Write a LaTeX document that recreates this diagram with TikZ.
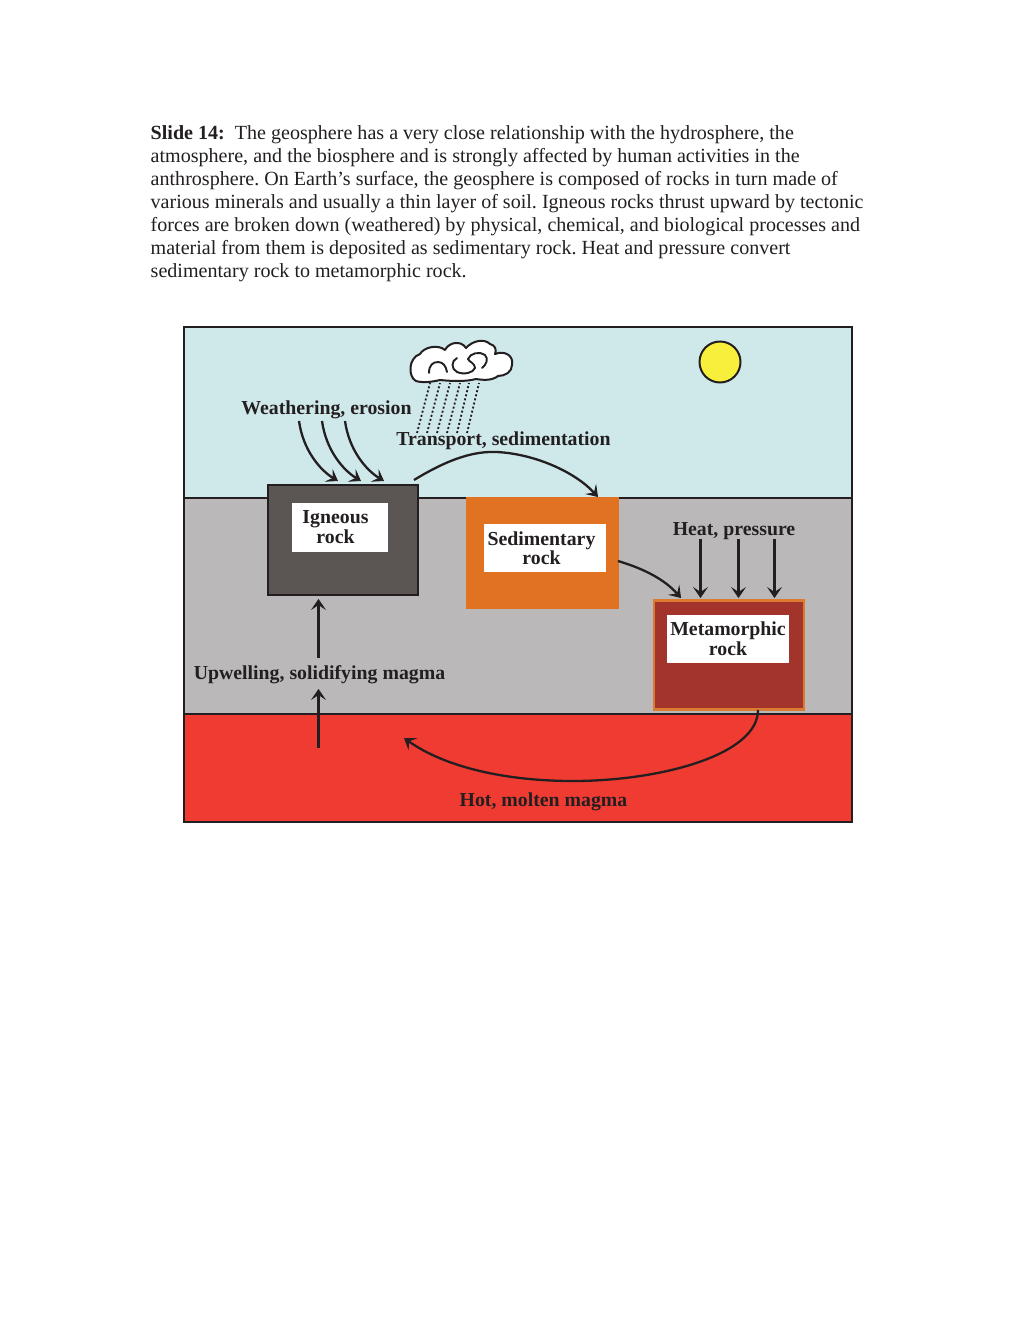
\documentclass[tikz,border=0pt]{standalone}
\usepackage{fontspec}
\setmainfont{Liberation Serif}
\usetikzlibrary{arrows.meta}
\definecolor{sky}{HTML}{CFE8EA}
\definecolor{crust}{HTML}{BBB8BA}
\definecolor{magma}{HTML}{F03B33}
\definecolor{igneous}{HTML}{5B5654}
\definecolor{sedim}{HTML}{E17222}
\definecolor{meta}{HTML}{A2342B}
\definecolor{metaedge}{HTML}{DB7A30}
\definecolor{ink}{HTML}{231F20}
\definecolor{sun}{HTML}{F7EF3C}
\tikzset{
  layer/.style={draw=ink,line width=2pt},
  lab/.style={font=\fontsize{19.8}{20}\selectfont\bfseries,text=ink,inner sep=0pt,anchor=center},
  tag/.style={fill=white,inner sep=0pt,anchor=center},
  tagtext/.style={font=\fontsize{19.8}{20}\selectfont\bfseries,text=ink,align=center,inner sep=0pt,anchor=center},
  flow/.style={draw=ink,-{Stealth[length=11pt,width=15pt,inset=5pt,line width=0.8pt]},line width=2.3pt},
  rain/.style={draw=ink,line width=1.8pt,dash pattern=on 2pt off 2.2pt},
}
\begin{document}
\frenchspacing
\begin{tikzpicture}[x=1pt,y=-1pt]
\useasboundingbox (0,0) rectangle (1024,1325);
\fill[white] (0,0) rectangle (1024,1325);
\node[anchor=north west,inner sep=0pt,align=left,font=\fontsize{20.07}{23}\selectfont,text=ink] (body) at (150.5,125.5) {%
\textbf{Slide 14:}\ \ The geosphere has a very close relationship with the hydrosphere, the\\
atmosphere, and the biosphere and is strongly affected by human activities in the\\
anthrosphere. On Earth’s surface, the geosphere is composed of rocks in turn made of\\
various minerals and usually a thin layer of soil. Igneous rocks thrust upward by tectonic\\
forces are broken down (weathered) by physical, chemical, and biological processes and\\
material from them is deposited as sedimentary rock. Heat and pressure convert\\
sedimentary rock to metamorphic rock.};
% layers
\fill[sky] (184,327) rectangle (852,498);
\fill[crust] (184,498) rectangle (852,714);
\fill[magma] (184,714) rectangle (852,822);
\draw[layer] (184,498) -- (852,498);
\draw[layer] (184,714) -- (852,714);
\draw[layer] (184,327) rectangle (852,822);
% sun
\node[circle,draw=ink,fill=sun,line width=2pt,minimum size=41pt,inner sep=0pt] (sunnode) at (720,362) {};
% rain
\foreach \a/\b in {417/430,427/440,437/450,447/460,457/469,467/479}
  \draw[rain] (\a,433) -- (\b,383);
% cloud
\draw[ink,fill=white,line width=2pt,line join=round]
  (416,381) .. controls (408,377) and (408,358) .. (420,354)
  .. controls (424,347) and (438,344) .. (445,350)
  .. controls (449,342) and (461,340) .. (466,348)
  .. controls (472,341) and (484,338) .. (490,344)
  .. controls (495,345) and (497,350) .. (495,354)
  .. controls (505,350) and (514,356) .. (512,365)
  .. controls (512,372) and (505,376) .. (498,376)
  .. controls (492,381) and (482,380) .. (476,379)
  .. controls (465,382) and (450,381) .. (440,380)
  .. controls (432,382) and (422,383) .. (416,381) -- cycle;
\draw[ink,line width=1.9pt,line cap=round]
  (429,373) .. controls (429,365) and (433,362) .. (438,362)
  .. controls (443,362) and (446,366) .. (447,372);
\draw[ink,line width=1.9pt,line cap=round]
  (457,358) .. controls (451,361) and (451,369) .. (457,372)
  .. controls (464,375) and (473,373) .. (475,368)
  .. controls (475,363) and (469,362) .. (468,359)
  .. controls (470,353) and (480,351) .. (485,355)
  .. controls (489,359) and (486,365) .. (482,368);
% rocks
\node[draw=ink,fill=igneous,line width=2pt,minimum width=150pt,minimum height=110pt,inner sep=0pt] (ign) at (342.5,540) {};
\node[fill=sedim,minimum width=153pt,minimum height=112pt,inner sep=0pt] (sed) at (542.5,553) {};
\node[draw=metaedge,fill=meta,line width=2.2pt,minimum width=150pt,minimum height=109pt,inner sep=0pt] (met) at (729,655) {};
\node[tag,minimum width=96pt,minimum height=49pt] (ignbox) at (339.5,527) {};
\node[tag,minimum width=122pt,minimum height=48pt] (sedbox) at (545,548) {};
\node[tag,minimum width=122pt,minimum height=48pt] (metbox) at (728,639) {};
\node[tagtext] (ignt) at (335.5,527) {Igneous\\[-0.5pt]rock};
\node[tagtext] (sedt) at (541.5,548) {Sedimentary\\[-0.5pt]rock};
\node[tagtext] (mett) at (728,638.5) {Metamorphic\\[-0.5pt]rock};
% labels
\node[lab] (we) at (326.5,410) {Weathering, erosion};
\node[lab] (tr) at (503.5,441) {Transport, sedimentation};
\node[lab] (hp) at (734,531) {Heat, pressure};
\node[lab] (up) at (319.5,675) {Upwelling, solidifying magma};
\node[lab] (hot) at (543.5,802) {Hot, molten magma};
% free ends
\coordinate (w1) at (299,421); \coordinate (w1e) at (338,481);
\coordinate (w2) at (322,421); \coordinate (w2e) at (361,481);
\coordinate (w3) at (345,421); \coordinate (w3e) at (384,481);
\draw[flow] (w1) .. controls (303,450) and (320,470) .. (w1e);
\draw[flow] (w2) .. controls (326,450) and (343,470) .. (w2e);
\draw[flow] (w3) .. controls (349,450) and (366,470) .. (w3e);
\coordinate (t1) at (414,480); \coordinate (t2) at (598,497);
\draw[flow] (t1) .. controls (450,458) and (475,451) .. (497,452)
  .. controls (535,454) and (575,472) .. (t2);
\coordinate (s1) at (618,561); \coordinate (s2) at (681,598);
\draw[flow] (s1) .. controls (645,569) and (665,580) .. (s2);
\foreach \x/\n in {700.5/a,738.5/b,774.5/c}{
  \coordinate (h\n) at (\x,539);
  \coordinate (h\n e) at (\x,598);
  \draw[flow] (h\n) -- (h\n e);
}
\coordinate (u0) at (318.5,658);
\coordinate (u1) at (318.5,599);
\draw[flow] (u0) -- (u1);
\coordinate (u2) at (318.5,748);
\coordinate (u3) at (318.5,689);
\draw[flow] (u2) -- (u3);
\coordinate (m1) at (758,710); \coordinate (m2) at (404,738);
\draw[flow] (m1) .. controls (758,755) and (660,781) .. (573,781)
  .. controls (505,781) and (445,767) .. (m2);
\end{tikzpicture}
\end{document}
